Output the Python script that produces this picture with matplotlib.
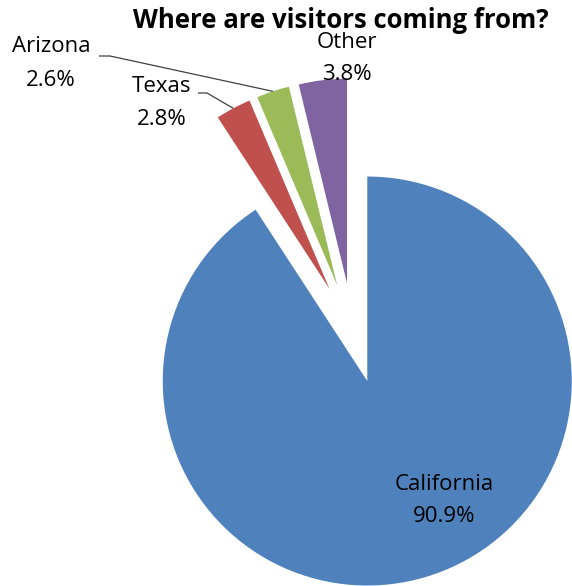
import numpy as np
import matplotlib
matplotlib.use("Agg")
import matplotlib.pyplot as plt

# Data
regions = ["California", "Texas", "Arizona", "Other"]
shares = [90.9, 2.8, 2.6, 3.8]
colors = ["#4F81BD", "#C0504D", "#9BBB59", "#8064A2"]
explode = [0.245, 0.245, 0.245, 0.245]
title = "Where are visitors coming from?"

W, H = 572, 586
R_PX = 204.5              # pie radius in pixels
CX, CY = 353.0, 333.0     # pie centre (pixels from top-left)

fig = plt.figure(figsize=(W / 100, H / 100), dpi=100)
ax = fig.add_axes([0, 0, 1, 1])

wedges, _ = ax.pie(shares, colors=colors, explode=explode, startangle=90,
                   counterclock=False, radius=1.0,
                   wedgeprops=dict(linewidth=0))

ax.set_aspect("auto")
ax.set_xlim(-CX / R_PX, (W - CX) / R_PX)
ax.set_ylim(-(H - CY) / R_PX, CY / R_PX)
ax.axis("off")


def px(x, y):
    """pixel position (from top-left) -> data coordinates"""
    return (x - CX) / R_PX, (CY - y) / R_PX


def arc_mid(w):
    """outer-arc midpoint of a wedge, in data coordinates"""
    ang = np.deg2rad((w.theta1 + w.theta2) / 2)
    cx, cy = w.center
    return cx + w.r * np.cos(ang), cy + w.r * np.sin(ang)


LABEL_FONT = "Open Sans"
FS = 16

# label positions (centre x, centre y of name line, centre y of value line)
label_pos = {
    "California": (444, 484, 516),
    "Texas": (162, 86, 119),
    "Arizona": (51, 47, 80),
    "Other": (347, 43, 75),
}

for name, val in zip(regions, shares):
    x, y1, y2 = label_pos[name]
    ax.text(*px(x, y1), name, ha="center", va="center", fontsize=FS,
            family=LABEL_FONT, color="#000000")
    ax.text(*px(x, y2), f"{val}%", ha="center", va="center", fontsize=FS,
            family=LABEL_FONT, color="#000000")

# leader lines for the small outer labels
leaders = {"Texas": ((198, 93), (207, 93)), "Arizona": ((99, 56), (110, 56))}
for name, (p0, p1) in leaders.items():
    w = wedges[regions.index(name)]
    ex, ey = arc_mid(w)
    a = px(*p0)
    b = px(*p1)
    ax.plot([a[0], b[0], ex], [a[1], b[1], ey], color="#404040", lw=0.9,
            solid_capstyle="butt")

fig.text(341 / W, 1 - 20 / H, title, ha="center", va="center",
         fontsize=18.5, fontweight="bold", family="Open Sans", color="#000000")

fig.savefig("out.png", dpi=100, facecolor="white")
